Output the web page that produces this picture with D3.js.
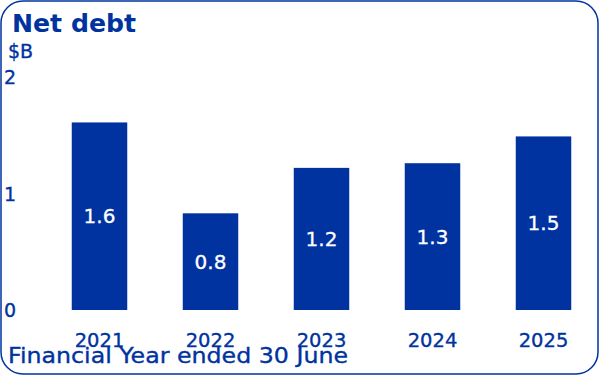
<!DOCTYPE html>
<html><head><meta charset="utf-8">
<script src="https://cdn.jsdelivr.net/npm/d3@7"></script>
<style>html,body{margin:0;padding:0;background:#fff;}svg{display:block;}</style>
</head><body>
<svg id="chart" width="600" height="376"></svg>
<script>
const categories = ["2021", "2022", "2023", "2024", "2025"];
const values = [1.61, 0.83, 1.22, 1.26, 1.49];
const valueLabels = ["1.6", "0.8", "1.2", "1.3", "1.5"];
const yTicks = [0, 1, 2];
const title = "Net debt";
const unitLabel = "$B";
const xTitle = "Financial Year ended 30 June";

const blue = "#0033a0";
const font = "'DejaVu Sans', sans-serif";
const svg = d3.select("#chart");

svg.append("rect").attr("x", 1).attr("y", 1).attr("width", 597).attr("height", 373)
  .attr("rx", 22).attr("ry", 22).attr("fill", "#fff").attr("stroke", blue).attr("stroke-width", 1.5);

const x = d3.scaleBand().domain(categories).range([44, 599]).paddingInner(0.5).paddingOuter(0.25);
const y = d3.scaleLinear().domain([0, 2]).range([310, 77]);

svg.append("text").attr("x", 12).attr("y", 32).text(title)
  .attr("font-family", font).attr("font-weight", "bold").attr("font-size", 24)
  .attr("textLength", 124).attr("lengthAdjust", "spacingAndGlyphs").attr("fill", blue);
svg.append("text").attr("x", 8).attr("y", 58).text(unitLabel)
  .attr("font-family", font).attr("font-size", 19).attr("fill", blue)
  .attr("stroke", blue).attr("stroke-width", 0.35);

const yAxis = d3.axisLeft(y).tickValues(yTicks).tickSize(0).tickFormat(d3.format("d"));
const ya = svg.append("g").attr("transform", "translate(4,0)").call(yAxis);
ya.select(".domain").remove();
ya.selectAll("text").attr("text-anchor", "start").attr("x", 0).attr("dy", "0.36em")
  .attr("font-family", font).attr("font-size", 19).attr("fill", blue)
  .attr("stroke", blue).attr("stroke-width", 0.35);

svg.append("g").selectAll("rect").data(values).join("rect")
  .attr("x", (d, i) => x(categories[i])).attr("width", x.bandwidth())
  .attr("y", d => y(d)).attr("height", d => y(0) - y(d)).attr("fill", blue);

svg.append("g").selectAll("text").data(values).join("text")
  .attr("x", (d, i) => x(categories[i]) + x.bandwidth() / 2)
  .attr("y", d => (y(d) + y(0)) / 2).attr("dy", "0.36em")
  .attr("text-anchor", "middle").text((d, i) => valueLabels[i])
  .attr("font-family", font).attr("font-size", 20).attr("fill", "#fff")
  .attr("stroke", "#fff").attr("stroke-width", 0.3);

const xAxis = d3.axisBottom(x).tickSize(0);
const xa = svg.append("g").attr("transform", "translate(0,310)").call(xAxis);
xa.select(".domain").remove();
xa.selectAll("text").attr("y", 37).attr("dy", null)
  .attr("font-family", font).attr("font-size", 19.5).attr("fill", blue)
  .attr("stroke", blue).attr("stroke-width", 0.35);

svg.append("text").attr("x", 8).attr("y", 363).text(xTitle)
  .attr("font-family", font).attr("font-size", 21.5)
  .attr("textLength", 340).attr("lengthAdjust", "spacingAndGlyphs").attr("fill", blue)
  .attr("stroke", blue).attr("stroke-width", 0.35);
</script>
</body></html>
